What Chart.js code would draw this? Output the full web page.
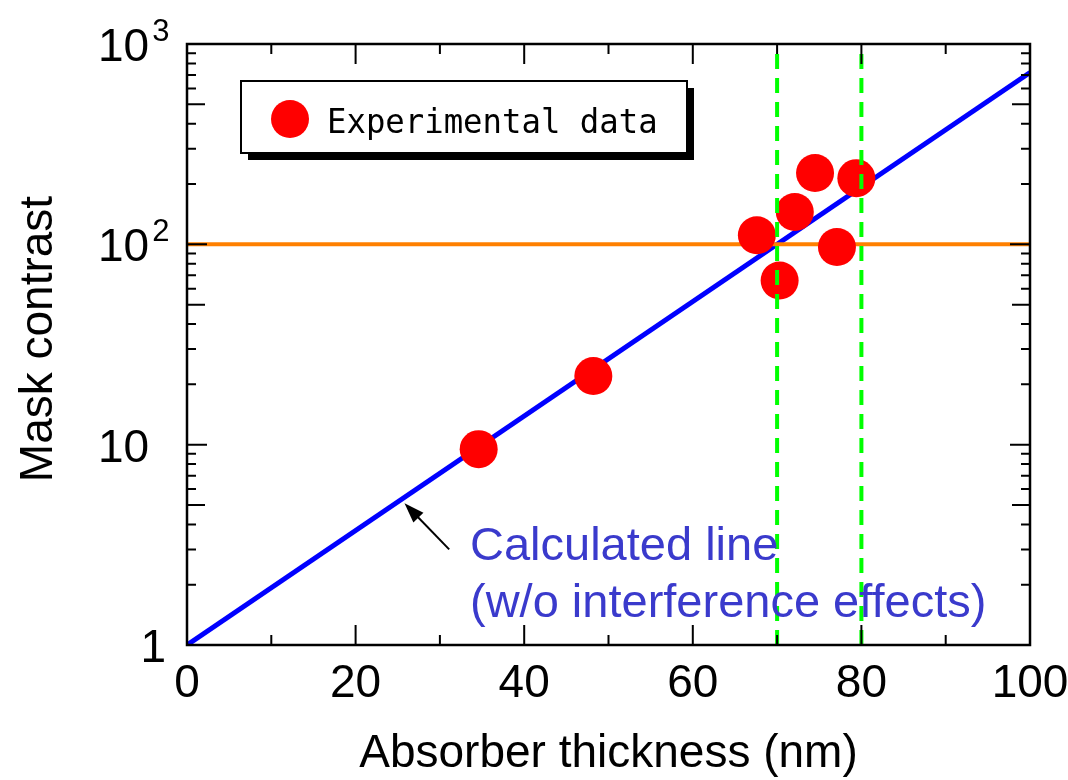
<!DOCTYPE html>
<html>
<head>
<meta charset="utf-8">
<script src="https://cdn.jsdelivr.net/npm/chart.js@4.4.0/dist/chart.umd.min.js"></script>
<style>
  html, body { margin: 0; padding: 0; background: #fff; }
  #wrap { width: 1068px; height: 780px; }
</style>
</head>
<body>
<div id="wrap"><canvas id="graphCanvas"></canvas></div>
<script>
// measured points
var thickness = [34.6, 48.2, 67.6, 70.3, 72.1, 74.5, 77.1, 79.4];
var contrast = [9.5, 22, 111, 66, 145, 227, 97, 214];

// calculated line (straight on log axis)
var calcX = [0, 100];
var calcY = [1, 720];

var targetContrast = 100;
var windowEdges = [70, 80];

var xTicks = [0, 20, 40, 60, 80, 100];
var xMinor = [10, 30, 50, 70, 90];
var yTicks = [1, 10, 100, 1000];
var yTickLabels = ['1', '10', '10|2', '10|3'];

var FONT = '"Liberation Sans", Arial, sans-serif';

function pts(xs, ys) {
	var out = [];
	for (var i in xs) {
		out.push({ x: xs[i], y: ys[i] });
	}
	return out;
}

var datasets = [];
for (var i in windowEdges) {
	datasets.push({
		label: 'edge' + i,
		data: [{ x: windowEdges[i], y: 1 }, { x: windowEdges[i], y: 1000 }],
		showLine: true,
		borderColor: '#00ff00',
		borderWidth: 4,
		borderDash: [15, 9],
		pointRadius: 0,
		order: 0
	});
}
datasets.push({
	label: 'Experimental data',
	data: pts(thickness, contrast),
	backgroundColor: '#ff0000',
	borderColor: '#ff0000',
	borderWidth: 0,
	pointRadius: 19,
	order: 1
});
datasets.push({
	label: 'target',
	data: [{ x: 0, y: targetContrast }, { x: 100, y: targetContrast }],
	showLine: true,
	borderColor: '#ff8000',
	borderWidth: 4,
	pointRadius: 0,
	order: 2
});
datasets.push({
	label: 'Calculated line',
	data: pts(calcX, calcY),
	showLine: true,
	borderColor: '#0000ff',
	borderWidth: 5,
	pointRadius: 0,
	order: 3
});

var decor = {
	id: 'decor',
	afterDatasetsDraw: function (chart) {
		var ctx = chart.ctx;
		var ca = chart.chartArea;
		var xs = chart.scales.x;
		var ys = chart.scales.y;
		ctx.save();

		// annotation arrow + text
		var tx = xs.getPixelForValue(25.8), ty = ys.getPixelForValue(5.1);
		var bx = xs.getPixelForValue(31.1), by = ys.getPixelForValue(3.0);
		var ang = Math.atan2(ty - by, tx - bx);
		ctx.strokeStyle = '#000';
		ctx.fillStyle = '#000';
		ctx.lineWidth = 2;
		ctx.beginPath();
		ctx.moveTo(bx, by);
		ctx.lineTo(tx - 15 * Math.cos(ang), ty - 15 * Math.sin(ang));
		ctx.stroke();
		ctx.beginPath();
		ctx.moveTo(tx, ty);
		ctx.lineTo(tx - 20 * Math.cos(ang) + 7 * Math.sin(ang), ty - 20 * Math.sin(ang) - 7 * Math.cos(ang));
		ctx.lineTo(tx - 20 * Math.cos(ang) - 7 * Math.sin(ang), ty - 20 * Math.sin(ang) + 7 * Math.cos(ang));
		ctx.closePath();
		ctx.fill();

		ctx.fillStyle = '#3a3acc';
		ctx.font = '47px ' + FONT;
		ctx.textAlign = 'left';
		ctx.textBaseline = 'alphabetic';
		ctx.fillText('Calculated line', 470, 560);
		ctx.fillText('(w/o interference effects)', 470, 617);

		// frame
		ctx.strokeStyle = '#000';
		ctx.lineWidth = 2.5;
		ctx.strokeRect(ca.left, ca.top, ca.right - ca.left, ca.bottom - ca.top);

		// inward ticks
		ctx.lineWidth = 2;
		ctx.beginPath();
		function xt(v, len) {
			var p = xs.getPixelForValue(v);
			ctx.moveTo(p, ca.bottom); ctx.lineTo(p, ca.bottom - len);
			ctx.moveTo(p, ca.top); ctx.lineTo(p, ca.top + len);
		}
		function yt(v, len) {
			var p = ys.getPixelForValue(v);
			ctx.moveTo(ca.left, p); ctx.lineTo(ca.left + len, p);
			ctx.moveTo(ca.right, p); ctx.lineTo(ca.right - len, p);
		}
		for (var i in xTicks) xt(xTicks[i], 20);
		for (var i in xMinor) xt(xMinor[i], 10);
		for (var d = 0; d < 3; d++) {
			yt(yTicks[d], 20);
			for (var m = 2; m <= 9; m++) {
				yt(yTicks[d] * m, m == 5 ? 18 : 9);
			}
		}
		ctx.stroke();

		// tick labels
		ctx.fillStyle = '#000';
		ctx.font = '46px ' + FONT;
		ctx.textAlign = 'center';
		ctx.textBaseline = 'alphabetic';
		for (var i in xTicks) {
			ctx.fillText(String(xTicks[i]), xs.getPixelForValue(xTicks[i]), 697);
		}
		for (var i in yTicks) {
			var p = ys.getPixelForValue(yTicks[i]);
			var parts = yTickLabels[i].split('|');
			ctx.font = '46px ' + FONT;
			if (parts[0] == '1') {
				ctx.textAlign = 'right';
				ctx.fillText(parts[0], 166, p + 17);
			} else {
				ctx.textAlign = 'left';
				ctx.fillText(parts[0], 98, p + 17);
				if (parts[1]) {
					var w = ctx.measureText(parts[0]).width;
					ctx.font = '31px ' + FONT;
					ctx.fillText(parts[1], 98 + w + 3, p - 3);
				}
			}
		}

		// axis titles
		ctx.font = '46px ' + FONT;
		ctx.textAlign = 'center';
		ctx.fillText('Absorber thickness (nm)', (ca.left + ca.right) / 2, 767);
		ctx.save();
		ctx.translate(52, 339);
		ctx.rotate(-Math.PI / 2);
		ctx.fillText('Mask contrast', 0, 0);
		ctx.restore();

		// legend box with shadow
		var lx = ca.left + 54, ly = ca.top + 37, lw = 446, lh = 72;
		ctx.fillStyle = '#000';
		ctx.fillRect(lx + 7, ly + 7, lw, lh);
		ctx.fillStyle = '#fff';
		ctx.fillRect(lx, ly, lw, lh);
		ctx.lineWidth = 2;
		ctx.strokeRect(lx, ly, lw, lh);
		var dots = chart.data.datasets[2];
		ctx.fillStyle = dots.backgroundColor;
		ctx.beginPath();
		ctx.arc(lx + 49, ly + 38, 19, 0, Math.PI * 2);
		ctx.fill();
		ctx.fillStyle = '#000';
		ctx.textAlign = 'left';
		ctx.save();
		ctx.translate(lx + 86, ly + 52);
		ctx.scale(0.95, 1);
		ctx.font = '34px "DejaVu Sans Mono", monospace';
		ctx.fillText(dots.label, 0, 0);
		ctx.restore();

		ctx.restore();
	}
};

var graphTarget = document.getElementById('graphCanvas');
var chart = new Chart(graphTarget, {
	type: 'scatter',
	data: { datasets: datasets },
	options: {
		responsive: true,
		maintainAspectRatio: false,
		animation: false,
		layout: { padding: { left: 187, right: 38, top: 44, bottom: 135 } },
		plugins: { legend: { display: false }, tooltip: { enabled: false } },
		scales: {
			x: { type: 'linear', min: 0, max: 100, display: false },
			y: { type: 'logarithmic', min: 1, max: 1000, display: false }
		}
	},
	plugins: [decor]
});
</script>
</body>
</html>
